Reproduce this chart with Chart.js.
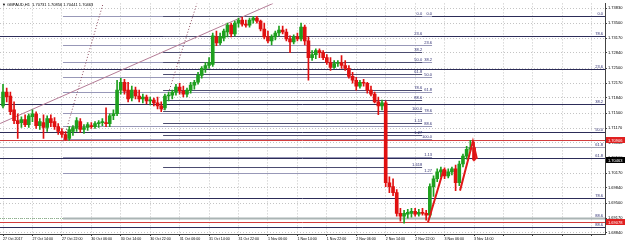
<!DOCTYPE html>
<html>
<head>
<meta charset="utf-8">
<script src="https://cdn.jsdelivr.net/npm/chart.js@4.4.1/dist/chart.umd.min.js"></script>
<style>
html, body { margin: 0; padding: 0; background: #fff; }
#wrap { width: 625px; height: 244px; }
</style>
</head>
<body>
<div id="wrap"><canvas id="chart" width="625" height="244"></canvas></div>
<script>
// GBPAUD H1 candles
const candleOpen = [
    1.71662, 1.71969, 1.71881, 1.71575, 1.71334, 1.71290, 1.71356, 1.71246, 1.71421, 1.71487,
    1.71224, 1.71290, 1.71181, 1.71378, 1.71312, 1.71202, 1.71093, 1.71027, 1.70940, 1.71093,
    1.71159, 1.71312, 1.71137, 1.71181, 1.71224, 1.71202, 1.71268, 1.71290, 1.71290, 1.71268,
    1.71443, 1.71487, 1.72013, 1.72188, 1.72013, 1.71838, 1.72013, 1.71881, 1.71816, 1.71859,
    1.71772, 1.71794, 1.71728, 1.71662, 1.71619, 1.71881, 1.71903, 1.71969, 1.72078, 1.71991,
    1.71925, 1.72013, 1.72122, 1.72188, 1.72341, 1.72495, 1.72560, 1.72582, 1.73195, 1.73064,
    1.73173, 1.73305, 1.73458, 1.73261, 1.73502, 1.73568, 1.73480, 1.73458, 1.73568, 1.73612,
    1.73546, 1.73371, 1.73195, 1.73108, 1.73195, 1.73283, 1.73349, 1.73305, 1.73152, 1.73086,
    1.73195, 1.73152, 1.73414, 1.73108, 1.72735, 1.72801, 1.72889, 1.72845, 1.72735, 1.72626,
    1.72516, 1.72604, 1.72626, 1.72560, 1.72495, 1.72319, 1.72232, 1.72100, 1.72188, 1.72166,
    1.72013, 1.71925, 1.71750, 1.71662, 1.71728, 1.69954, 1.69867, 1.69735, 1.69275, 1.69210,
    1.69253, 1.69275, 1.69319, 1.69253, 1.69297, 1.69275, 1.69231, 1.69867, 1.70042, 1.70195,
    1.70239, 1.70107, 1.70195, 1.70261, 1.69954, 1.70370, 1.70545, 1.70699, 1.70731
];
const candleHigh = [
    1.72144, 1.72057, 1.71969, 1.71750, 1.71487, 1.71421, 1.71465, 1.71487, 1.71575, 1.71531,
    1.71378, 1.71465, 1.71443, 1.71465, 1.71400, 1.71268, 1.71159, 1.71093, 1.71202, 1.71224,
    1.71400, 1.71378, 1.71246, 1.71290, 1.71290, 1.71312, 1.71334, 1.71378, 1.71619, 1.71487,
    1.71575, 1.72232, 1.72276, 1.72254, 1.72188, 1.72100, 1.72078, 1.72013, 1.71925, 1.71903,
    1.71859, 1.71838, 1.71859, 1.71750, 1.71925, 1.71969, 1.72013, 1.72144, 1.72166, 1.72100,
    1.72057, 1.72188, 1.72232, 1.72407, 1.72538, 1.72626, 1.72735, 1.73283, 1.73327, 1.73283,
    1.73371, 1.73502, 1.73502, 1.73546, 1.73612, 1.73633, 1.73568, 1.73612, 1.73655, 1.73655,
    1.73568, 1.73502, 1.73327, 1.73239, 1.73327, 1.73436, 1.73436, 1.73371, 1.73217, 1.73239,
    1.73283, 1.73502, 1.73458, 1.73195, 1.72889, 1.72933, 1.72933, 1.72889, 1.72801, 1.72735,
    1.72670, 1.72670, 1.72779, 1.72670, 1.72560, 1.72407, 1.72297, 1.72232, 1.72254, 1.72188,
    1.72100, 1.71969, 1.71859, 1.71794, 1.71772, 1.70086, 1.70042, 1.69801, 1.69385, 1.69341,
    1.69363, 1.69385, 1.69385, 1.69363, 1.69385, 1.69341, 1.69932, 1.70107, 1.70261, 1.70305,
    1.70283, 1.70261, 1.70305, 1.70348, 1.70436, 1.70589, 1.70764, 1.70896, 1.70856
];
const candleLow = [
    1.71619, 1.71750, 1.71465, 1.71268, 1.70940, 1.71181, 1.71202, 1.71181, 1.71312, 1.71159,
    1.71137, 1.70940, 1.71093, 1.71202, 1.71137, 1.71027, 1.70962, 1.70896, 1.70896, 1.71005,
    1.71093, 1.71071, 1.71049, 1.71115, 1.71159, 1.71159, 1.71181, 1.71224, 1.71202, 1.71202,
    1.71356, 1.71443, 1.71925, 1.71925, 1.71750, 1.71772, 1.71816, 1.71750, 1.71728, 1.71706,
    1.71684, 1.71662, 1.71597, 1.71531, 1.71575, 1.71772, 1.71816, 1.71903, 1.71925, 1.71859,
    1.71859, 1.71947, 1.72035, 1.72144, 1.72276, 1.72407, 1.72495, 1.72538, 1.72998, 1.73020,
    1.73108, 1.73195, 1.73195, 1.73217, 1.73414, 1.73436, 1.73414, 1.73414, 1.73502, 1.73502,
    1.73327, 1.73152, 1.73064, 1.73020, 1.73130, 1.73217, 1.73261, 1.73108, 1.72845, 1.73042,
    1.73108, 1.73108, 1.73020, 1.72232, 1.72670, 1.72714, 1.72735, 1.72692, 1.72582, 1.72451,
    1.72495, 1.72538, 1.72495, 1.72451, 1.72276, 1.72166, 1.72013, 1.72057, 1.72100, 1.71947,
    1.71881, 1.71728, 1.71465, 1.71575, 1.69867, 1.69735, 1.69669, 1.69210, 1.69100, 1.69056,
    1.69166, 1.69188, 1.69210, 1.69210, 1.69231, 1.69122, 1.69188, 1.69648, 1.69976, 1.70086,
    1.70042, 1.70064, 1.70129, 1.69779, 1.69888, 1.70305, 1.70480, 1.70655, 1.70441
];
const candleClose = [
    1.71969, 1.71859, 1.71531, 1.71334, 1.71268, 1.71356, 1.71246, 1.71443, 1.71487, 1.71224,
    1.71312, 1.71181, 1.71378, 1.71290, 1.71202, 1.71093, 1.71027, 1.70918, 1.71137, 1.71181,
    1.71334, 1.71137, 1.71181, 1.71246, 1.71202, 1.71268, 1.71290, 1.71312, 1.71268, 1.71443,
    1.71487, 1.72013, 1.72188, 1.71991, 1.71816, 1.72013, 1.71881, 1.71816, 1.71859, 1.71772,
    1.71794, 1.71728, 1.71662, 1.71597, 1.71881, 1.71903, 1.71969, 1.72078, 1.71991, 1.71925,
    1.72013, 1.72122, 1.72188, 1.72341, 1.72495, 1.72560, 1.72626, 1.73217, 1.73064, 1.73195,
    1.73327, 1.73458, 1.73261, 1.73502, 1.73568, 1.73480, 1.73458, 1.73568, 1.73612, 1.73546,
    1.73371, 1.73195, 1.73108, 1.73195, 1.73283, 1.73349, 1.73305, 1.73152, 1.73086, 1.73195,
    1.73152, 1.73414, 1.73108, 1.72735, 1.72801, 1.72889, 1.72845, 1.72735, 1.72626, 1.72516,
    1.72604, 1.72626, 1.72560, 1.72495, 1.72319, 1.72232, 1.72100, 1.72188, 1.72166, 1.72013,
    1.71925, 1.71750, 1.71662, 1.71728, 1.69954, 1.69867, 1.69735, 1.69275, 1.69210, 1.69275,
    1.69297, 1.69319, 1.69253, 1.69297, 1.69275, 1.69231, 1.69867, 1.70042, 1.70195, 1.70239,
    1.70107, 1.70195, 1.70261, 1.69954, 1.70370, 1.70545, 1.70699, 1.70731, 1.70463
];

// time axis: one label every 8 bars
const timeLabels = [
    "27 Oct 2017", "27 Oct 14:00", "27 Oct 22:00", "30 Oct 06:00", "30 Oct 14:00",
    "30 Oct 22:00", "31 Oct 06:00", "31 Oct 14:00", "31 Oct 22:00", "1 Nov 06:00",
    "1 Nov 14:00", "1 Nov 22:00", "2 Nov 06:00", "2 Nov 14:00", "2 Nov 22:00",
    "3 Nov 06:00", "3 Nov 14:00"
];
const priceTicks = [
    1.73830, 1.73500, 1.73170, 1.72840, 1.72500, 1.72170, 1.71840, 1.71500,
    1.71170, 1.70840, 1.70500, 1.70170, 1.69840, 1.69500, 1.69170, 1.68840
];

// fibonacci objects (levels)
const fibBLabels = ["0.0", "23.6", "38.2", "50.0", "61.8", "78.6", "88.6", "100.0", "1.13", "1.27", "1.618"];
const fibBPrices = [1.73655, 1.73217, 1.72867, 1.72648, 1.72363, 1.72013, 1.71794, 1.71553, 1.71290, 1.71005, 1.70305];
const fibBBars = [43.5, 113.9];
const fibCLabels = ["0.0", "23.6", "38.2", "50.0", "61.8", "78.6", "88.6", "100.0", "1.13", "1.27"];
const fibCPrices = [1.73655, 1.73020, 1.72648, 1.72297, 1.71969, 1.71509, 1.71224, 1.70918, 1.70524, 1.70173];
const fibCBars = [16.3, 116.6];
const rightLabels = ["0.0", "78.6", "23.6", "38.2", "50.0", "61.8", "61.8", "78.6", "88.6", "88.6"];
const rightPrices = [1.73655, 1.73217, 1.72473, 1.71706, 1.71093, 1.70743, 1.70502, 1.69626, 1.69166, 1.68969];
const rightStartBars = [16.3, -1, -1, -1, -1, -1, -1, -1, 16.3, -1];

// horizontal price lines with their axis boxes
const redLinePrices = [1.70896, 1.69078];
const redLineLabels = ["1.70906", "1.69078"];
const bidPrice = 1.70463;
const headerText = "GBPAUD,H1  1.70731 1.70856 1.70441 1.70463";

// drawn trendlines (bar index, price)
const trendBars = [-0.8, 73.4];
const trendPrices = [1.7127, 1.7394];
const dotLine1Bars = [16.3, 27.2];
const dotLine1Prices = [1.70874, 1.7394];
const dotLine2Bars = [43.5, 52.7];
const dotLine2Prices = [1.71575, 1.7394];
const zigBars = [115.5, 119.8, 122, 124.2, 127.7, 128.8];
const zigPrices = [1.69078, 1.70261, null, 1.69779, 1.70874, 1.70480];

const UP = "#1ea01e";
const DOWN = "#e01010";
const candleColors = candleOpen.map((o, i) => (candleClose[i] >= o ? UP : DOWN));
const FONT = "'Liberation Sans'";

function pts(bars, prices) {
    return bars.map((b, i) => ({ x: b, y: prices[i] }));
}

const fibPlugin = {
    id: "fibs",
    beforeDatasetsDraw(chart) {
        const ctx = chart.ctx;
        const xs = chart.scales.x;
        const ys = chart.scales.y;
        const area = chart.chartArea;
        ctx.save();
        ctx.beginPath();
        ctx.rect(area.left, area.top, area.right - area.left, area.bottom - area.top);
        ctx.clip();
        ctx.font = "4px " + FONT;
        ctx.textAlign = "right";
        ctx.textBaseline = "bottom";

        // full width levels
        rightPrices.forEach((p, i) => {
            const y = Math.round(ys.getPixelForValue(p)) + 0.5;
            const x0 = Math.max(area.left, xs.getPixelForValue(rightStartBars[i]));
            ctx.strokeStyle = i == 5 ? "#a0a0b4" : i == 8 ? "#aab4b4" : "#2c2c58";
            ctx.lineWidth = i == 8 ? 2 : 1;
            ctx.beginPath();
            ctx.moveTo(x0, y);
            ctx.lineTo(area.right, y);
            ctx.stroke();
            ctx.fillStyle = "#2c2c70";
            ctx.fillText(rightLabels[i], area.right - 2, y - 1);
        });
        // green dotted piece left of the grey level
        ctx.strokeStyle = "#8cb48c";
        ctx.setLineDash([1, 1]);
        ctx.lineWidth = 1;
        const gy = Math.round(ys.getPixelForValue(rightPrices[8])) + 0.5;
        ctx.beginPath();
        ctx.moveTo(area.left, gy);
        ctx.lineTo(xs.getPixelForValue(rightStartBars[8]), gy);
        ctx.stroke();
        ctx.setLineDash([]);

        // two retracement objects
        [[fibCPrices, fibCLabels, fibCBars, "#9898b8"], [fibBPrices, fibBLabels, fibBBars, "#4c4c70"]].forEach((f) => {
            const x0 = xs.getPixelForValue(f[2][0]);
            const x1 = xs.getPixelForValue(f[2][1]);
            f[0].forEach((p, i) => {
                const y = Math.round(ys.getPixelForValue(p)) + 0.5;
                ctx.strokeStyle = f[3];
                ctx.beginPath();
                ctx.moveTo(x0, y);
                ctx.lineTo(x1, y);
                ctx.stroke();
                ctx.fillStyle = "#2c2c70";
                ctx.fillText(f[1][i], x1, y - 1);
            });
        });

        // red price lines
        ctx.strokeStyle = "#d23c3c";
        redLinePrices.forEach((p) => {
            const y = Math.round(ys.getPixelForValue(p)) + 0.5;
            ctx.beginPath();
            ctx.moveTo(area.left, y);
            ctx.lineTo(area.right, y);
            ctx.stroke();
        });
        ctx.restore();
    },
    afterDraw(chart) {
        const ctx = chart.ctx;
        const ys = chart.scales.y;
        const area = chart.chartArea;
        ctx.save();
        ctx.font = "4px " + FONT;
        ctx.textBaseline = "middle";
        ctx.textAlign = "left";
        const box = (p, text, bg) => {
            const y = Math.round(ys.getPixelForValue(p));
            ctx.fillStyle = bg;
            ctx.fillRect(area.right + 1, y - 3, 19, 6);
            ctx.fillStyle = "#fff";
            ctx.fillText(text, area.right + 3, y + 0.5);
        };
        redLinePrices.forEach((p, i) => box(p, redLineLabels[i], "#e02020"));
        box(bidPrice, bidPrice.toFixed(5), "#000");

        // header
        ctx.fillStyle = "#000";
        ctx.fillText("\u25BC " + headerText, 2, 5);
        ctx.restore();
    },
};

const ctx = document.getElementById("chart").getContext("2d");
new Chart(ctx, {
    type: "bar",
    data: {
        datasets: [
            {
                label: "wick",
                data: candleLow.map((l, i) => ({ x: i, y: [l, candleHigh[i]] })),
                backgroundColor: candleColors,
                barThickness: 1,
                grouped: false,
                order: 2,
            },
            {
                label: "body",
                data: candleOpen.map((o, i) => ({ x: i, y: [o, candleClose[i]] })),
                backgroundColor: candleColors,
                barThickness: 3,
                minBarLength: 1,
                grouped: false,
                order: 1,
            },
            {
                type: "line",
                data: pts(trendBars, trendPrices),
                borderColor: "#b47c96",
                borderWidth: 1,
                pointRadius: 0,
                order: 3,
            },
            {
                type: "line",
                data: pts(dotLine1Bars, dotLine1Prices),
                borderColor: "#8c4a5e",
                borderWidth: 1,
                borderDash: [1, 2],
                pointRadius: 0,
                order: 3,
            },
            {
                type: "line",
                data: pts(dotLine2Bars, dotLine2Prices),
                borderColor: "#8c4a5e",
                borderWidth: 1,
                borderDash: [1, 2],
                pointRadius: 0,
                order: 3,
            },
            {
                type: "line",
                data: pts(zigBars, zigPrices),
                borderColor: "#e01818",
                borderWidth: 2,
                pointRadius: 0,
                spanGaps: false,
                order: 0,
            },
        ],
    },
    options: {
        responsive: false,
        animation: false,
        devicePixelRatio: 1,
        layout: { padding: 0 },
        plugins: { legend: { display: false }, tooltip: { enabled: false } },
        scales: {
            x: {
                type: "linear",
                min: -0.82,
                max: 163.6,
                offset: false,
                afterBuildTicks: (s) => {
                    s.ticks = [];
                    for (let i = 0; i <= 160; i += 8) s.ticks.push({ value: i });
                },
                afterFit: (s) => {
                    s.height = 10;
                },
                ticks: {
                    autoSkip: false,
                    maxRotation: 0,
                    align: "start",
                    padding: 1,
                    color: "#000",
                    font: { family: "Liberation Sans", size: 3.6 },
                    callback: (v) => timeLabels[v / 8] || "",
                },
                grid: { color: "#c4c4c4", offset: false, tickLength: 2, tickColor: "#444" },
                border: { display: true, color: "#444", dash: [1, 2] },
            },
            y: {
                type: "linear",
                position: "right",
                min: 1.68815,
                max: 1.7394,
                afterBuildTicks: (s) => {
                    s.ticks = priceTicks.map((v) => ({ value: v }));
                },
                afterFit: (s) => {
                    s.width = 20;
                },
                ticks: {
                    padding: 1,
                    color: "#000",
                    font: { family: "Liberation Sans", size: 4 },
                    callback: (v) => v.toFixed(5),
                },
                grid: { color: "#c4c4c4", tickLength: 2, tickColor: "#444" },
                border: { display: true, color: "#444", dash: [1, 2] },
            },
        },
    },
    plugins: [fibPlugin],
});
</script>
</body>
</html>
